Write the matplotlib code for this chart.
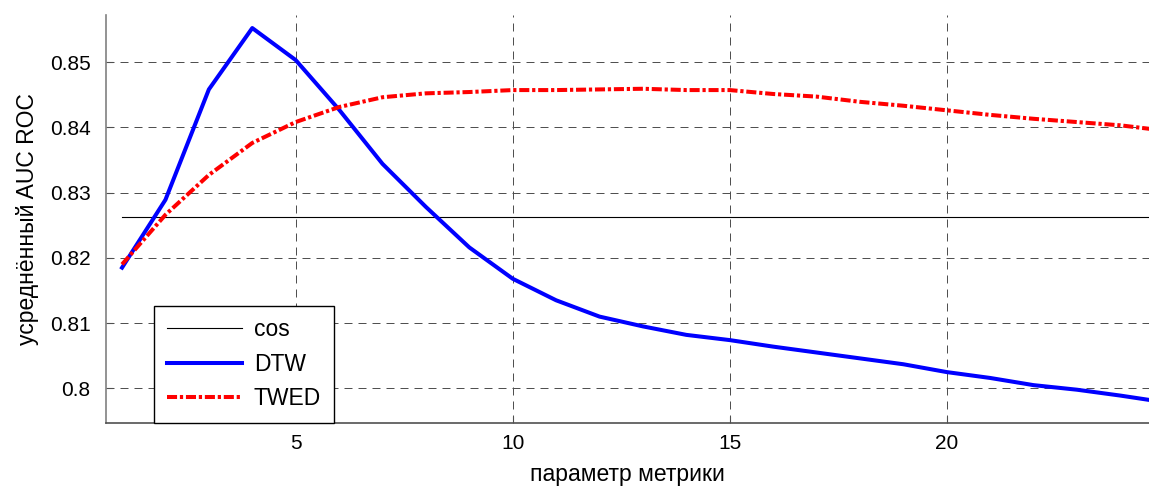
import matplotlib
matplotlib.use("Agg")
import matplotlib.pyplot as plt
import numpy as np

plt.rcParams['font.family'] = ['Liberation Sans', 'DejaVu Sans']

# параметр метрики
x = np.arange(1, 26)

# cos baseline
cos_val = 0.8263

dtw = [0.8185, 0.8289, 0.8458, 0.8552, 0.8503, 0.8427, 0.8344, 0.8278, 0.8216, 0.8168,
       0.8135, 0.8110, 0.8095, 0.8082, 0.8074, 0.8064, 0.8055, 0.8046, 0.8037, 0.8025,
       0.8016, 0.8005, 0.7998, 0.7989, 0.7979]

twed = [0.8190, 0.8266, 0.8327, 0.8376, 0.8408, 0.8431, 0.8446, 0.8452, 0.8454, 0.8457,
        0.8457, 0.8458, 0.8459, 0.8457, 0.8457, 0.8451, 0.8447, 0.8439, 0.8433, 0.8426,
        0.8419, 0.8413, 0.8408, 0.8403, 0.8395]

fig = plt.figure(figsize=(11.49, 4.86), dpi=100)
ax = fig.add_axes([106 / 1149, 63 / 486, 1 - 106 / 1149, (423 - 15) / 486])

ax.plot([x[0], x[-1]], [cos_val, cos_val], color='black', lw=0.8, label='cos')
ax.plot(x, dtw, color='#0000ff', lw=2.9, label='DTW')
ax.plot(x, twed, color='#ff0000', lw=2.9, linestyle=(0, (2.5, 0.7, 0.8, 0.7)), label='TWED')

ax.set_xlim(0.63, 24.66)
ax.set_ylim(0.7947, 0.8572)
ax.set_xticks([5, 10, 15, 20])
ax.set_yticks([0.80, 0.81, 0.82, 0.83, 0.84, 0.85])
ax.set_yticklabels(['0.8', '0.81', '0.82', '0.83', '0.84', '0.85'])

ax.grid(True, color='#505050', lw=0.72, linestyle=(0, (8, 6)))
ax.set_axisbelow(True)

for s in ['top', 'right']:
    ax.spines[s].set_visible(False)
ax.spines['left'].set_color('#808080')
ax.spines['bottom'].set_color('#505050')
ax.spines['left'].set_linewidth(1.2)
ax.spines['bottom'].set_linewidth(1.2)

ax.tick_params(direction='in', length=5, labelsize=15, colors='#505050', labelcolor='black')
ax.tick_params(axis='y', pad=11)
ax.tick_params(axis='x', pad=8)

ax.set_xlabel('параметр метрики', fontsize=16.5, labelpad=7)
ax.set_ylabel('усреднённый AUC ROC', fontsize=16.5, labelpad=8)

leg = ax.legend(loc='lower left', bbox_to_anchor=(48 / 1043, 0), borderaxespad=0,
                fontsize=16.5, frameon=True, fancybox=False, handlelength=3.3,
                handletextpad=0.5, labelspacing=0.5, borderpad=0.55)
leg.get_frame().set_edgecolor('black')
leg.get_frame().set_linewidth(1.0)
leg.get_frame().set_alpha(1)

fig.savefig('out.png', dpi=100)
